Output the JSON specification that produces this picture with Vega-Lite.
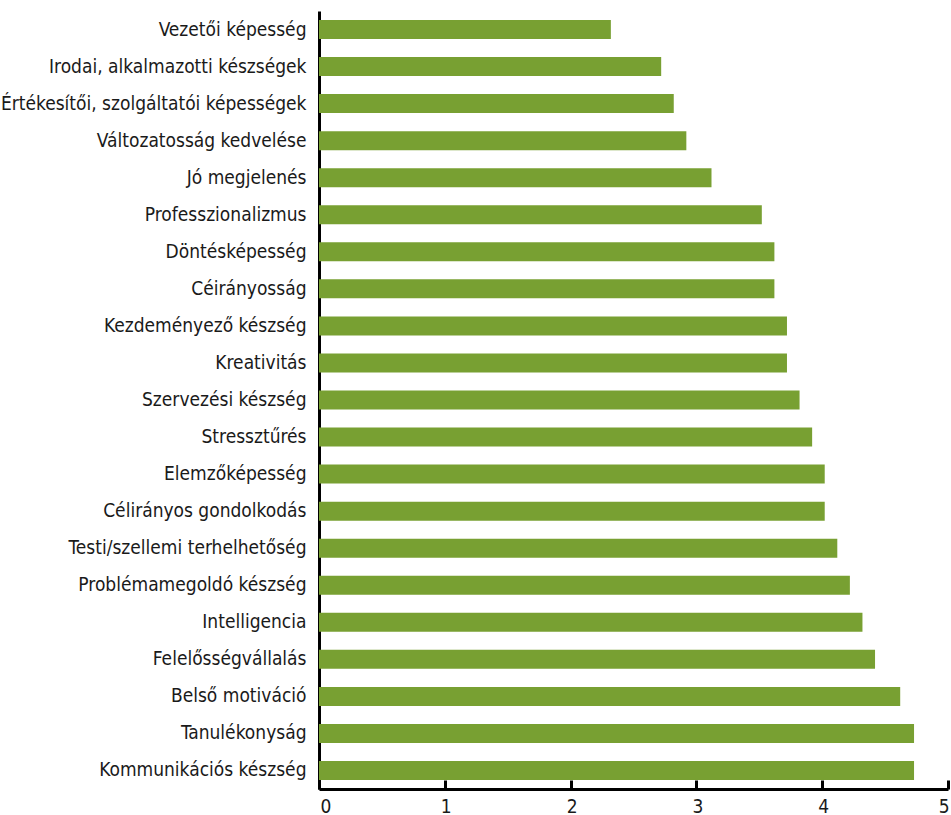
{
  "$schema": "https://vega.github.io/schema/vega-lite/v6.json",
  "autosize": {"type": "none"},
  "width": 629,
  "height": 778,
  "padding": {"left": 319, "top": 11, "right": 3, "bottom": 26},
  "background": "white",
  "data": {
    "values": [
      {"skill": "Vezetői képesség", "value": 2.32},
      {"skill": "Irodai, alkalmazotti készségek", "value": 2.72},
      {"skill": "Értékesítői, szolgáltatói képességek", "value": 2.82},
      {"skill": "Változatosság kedvelése", "value": 2.92},
      {"skill": "Jó megjelenés", "value": 3.12},
      {"skill": "Professzionalizmus", "value": 3.52},
      {"skill": "Döntésképesség", "value": 3.62},
      {"skill": "Céirányosság", "value": 3.62},
      {"skill": "Kezdeményező készség", "value": 3.72},
      {"skill": "Kreativitás", "value": 3.72},
      {"skill": "Szervezési készség", "value": 3.82},
      {"skill": "Stressztűrés", "value": 3.92},
      {"skill": "Elemzőképesség", "value": 4.02},
      {"skill": "Célirányos gondolkodás", "value": 4.02},
      {"skill": "Testi/szellemi terhelhetőség", "value": 4.12},
      {"skill": "Problémamegoldó készség", "value": 4.22},
      {"skill": "Intelligencia", "value": 4.32},
      {"skill": "Felelősségvállalás", "value": 4.42},
      {"skill": "Belső motiváció", "value": 4.62},
      {"skill": "Tanulékonyság", "value": 4.73},
      {"skill": "Kommunikációs készség", "value": 4.73}
    ]
  },
  "config": {
    "view": {"stroke": null},
    "font": "'DejaVu Sans Condensed', 'Roboto Condensed', 'Liberation Sans Narrow', 'Liberation Sans', sans-serif"
  },
  "mark": {"type": "bar", "color": "#78A032"},
  "encoding": {
    "y": {
      "field": "skill",
      "type": "nominal",
      "sort": null,
      "scale": {"paddingInner": 0.487, "paddingOuter": 0.2435},
      "axis": {
        "title": null,
        "domainColor": "#000000",
        "domainWidth": 3,
        "ticks": false,
        "labelPadding": 13,
        "labelFontSize": 19,
        "labelColor": "#1a1a1a",
        "labelFont": "'DejaVu Sans Condensed', 'Roboto Condensed', 'Liberation Sans Narrow', 'Liberation Sans', sans-serif",
        "labelLimit": 0
      }
    },
    "x": {
      "field": "value",
      "type": "quantitative",
      "scale": {"domain": [0, 5], "nice": false},
      "axis": {
        "title": null,
        "values": [0, 1, 2, 3, 4, 5],
        "grid": false,
        "domainColor": "#000000",
        "domainWidth": 3,
        "tickColor": "#000000",
        "tickWidth": 3,
        "tickSize": -9,
        "labelPadding": 17,
        "labelFontSize": 19,
        "labelColor": "#1a1a1a",
        "labelFont": "'DejaVu Sans Condensed', 'Roboto Condensed', 'Liberation Sans Narrow', 'Liberation Sans', sans-serif",
        "labelFlush": true,
        "labelOffset": 1
      }
    }
  }
}
